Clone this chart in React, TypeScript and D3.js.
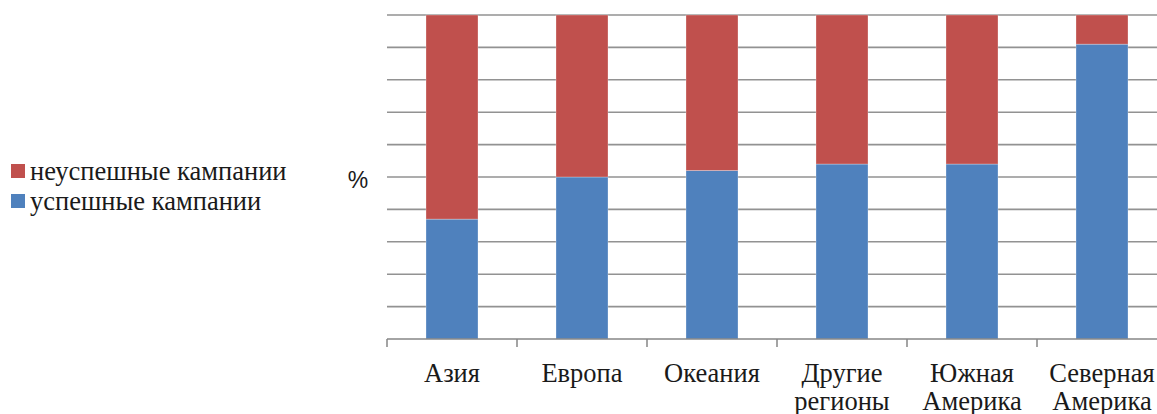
import React from "react";
import * as d3 from "d3";

const categories = ["Азия", "Европа", "Океания", "Другие регионы", "Южная Америка", "Северная Америка"];
const successful = [37, 50, 52, 54, 54, 91];
const failed = [63, 50, 48, 46, 46, 9];
const seriesNames = ["неуспешные кампании", "успешные кампании"];
const seriesColors = ["#C0504D", "#4F81BD"];
const yTicks = [10, 20, 30, 40, 50, 60, 70, 80, 90, 100];
const yLabel = "%";

export default function App() {
  const W = 1157, H = 414;
  const left = 387, right = 1167, top = 15, bottom = 339;
  const x = d3.scaleBand<string>().domain(categories).range([left, right]).paddingInner(0.6).paddingOuter(0.3);
  const y = d3.scaleLinear().domain([0, 100]).range([bottom, top]);
  const stackData = categories.map((c, i) => ({ cat: c, s: successful[i], f: failed[i] }));
  const stack = d3.stack<any>().keys(["s", "f"])(stackData);
  const colorFor: Record<string, string> = { s: seriesColors[1], f: seriesColors[0] };
  const step = x.step();
  const serifStyle = { fontFamily: "Liberation Serif, Times New Roman, Times, DejaVu Serif, serif" };
  return (
    <svg width={W} height={H} style={{ position: "absolute", left: 0, top: 0, background: "#fff" }}>
      {yTicks.map((t) => (
        <line key={t} x1={left} x2={right} y1={y(t)} y2={y(t)} stroke="#929292" strokeWidth={1.6} />
      ))}
      {stack.map((layer) => (
        <g key={layer.key} fill={colorFor[layer.key]}>
          {layer.map((d, i) => (
            <rect
              key={i}
              x={x(categories[i])!}
              width={x.bandwidth()}
              y={y(d[1])}
              height={y(d[0]) - y(d[1])}
              stroke="#ffffff"
              strokeOpacity={0.35}
              strokeWidth={0.8}
            />
          ))}
        </g>
      ))}
      <line x1={left} x2={right} y1={bottom} y2={bottom} stroke="#868686" strokeWidth={1.6} />
      {d3.range(categories.length + 1).map((i) => (
        <line key={i} x1={left + i * step} x2={left + i * step} y1={bottom} y2={bottom + 8} stroke="#868686" strokeWidth={1.5} />
      ))}
      {categories.map((c) => {
        const cx = x(c)! + x.bandwidth() / 2;
        const lines = c.split(" ");
        return (
          <text key={c} x={cx} y={382} textAnchor="middle" style={serifStyle} fontSize={26.5} fill="#1a1a1a">
            {lines.map((l, j) => (
              <tspan key={j} x={cx} dy={j === 0 ? 0 : 28}>{l}</tspan>
            ))}
          </text>
        );
      })}
      <text x={358} y={188} textAnchor="middle" fontFamily="Liberation Sans, Arial, sans-serif" fontSize={23} fill="#1a1a1a">{yLabel}</text>
      {seriesNames.map((n, i) => (
        <g key={n}>
          <rect x={11} y={164 + i * 30} width={14} height={14} fill={seriesColors[i]} />
          <text x={30} y={180 + i * 30} style={serifStyle} fontSize={26.5} fill="#1a1a1a">{n}</text>
        </g>
      ))}
    </svg>
  );
}
